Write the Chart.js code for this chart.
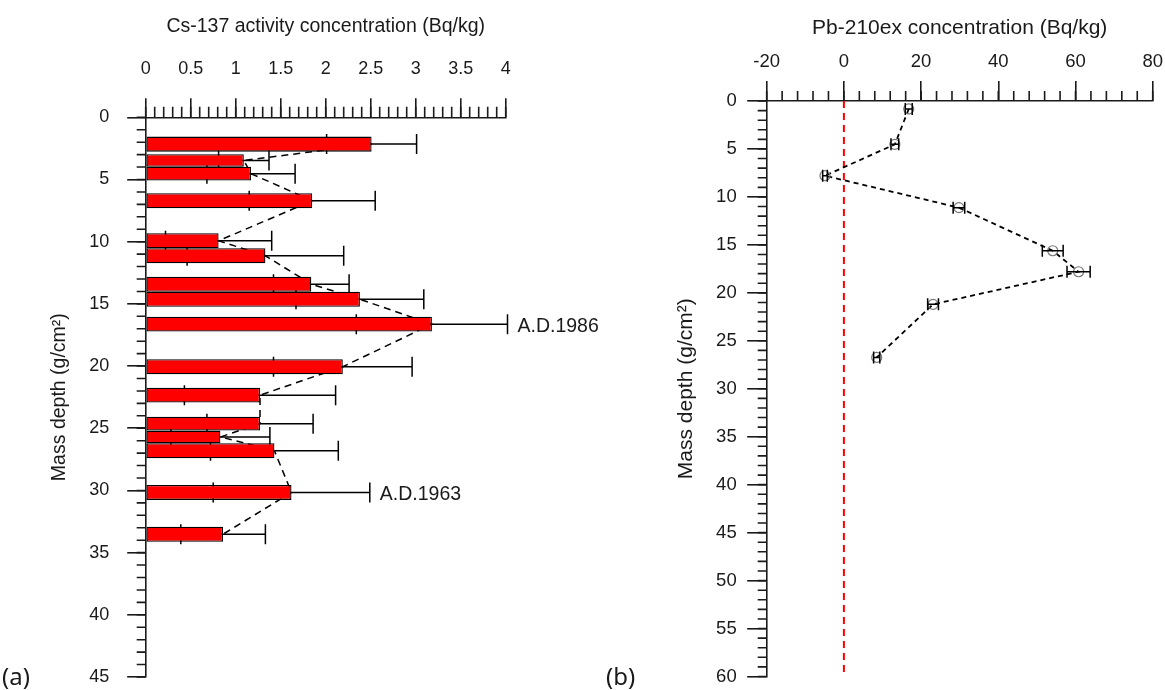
<!DOCTYPE html>
<html>
<head>
<meta charset="utf-8">
<title>Cs-137 and Pb-210ex mass depth profiles</title>
<script src="https://cdn.jsdelivr.net/npm/chart.js@4.4.1/dist/chart.umd.min.js"></script>
<style>
  html, body { margin: 0; padding: 0; background: #fff; }
  #wrap { position: relative; width: 1165px; height: 690px; overflow: hidden; }
  #csChart { position: absolute; left: 0; top: 0; }
  #pbChart { position: absolute; left: 600px; top: 0; }
  .panel { position: absolute; font-family: 'Noto Sans', sans-serif; font-size: 24px; line-height: 1; color: #1a1a1a; }
</style>
</head>
<body>
<div id="wrap">
  <canvas id="csChart" width="620" height="690"></canvas>
  <canvas id="pbChart" width="565" height="690"></canvas>
  <div class="panel" style="left:2px; top:664px;">(a)</div>
  <div class="panel" style="left:606px; top:664px;">(b)</div>
</div>
<script>
// --- Data: Cs-137, each bar covers one mass depth interval (g/cm2) ---
const csDepthTop    = [1.55, 2.97, 3.97, 6.11, 9.32, 10.53, 12.81, 14.02, 16.03, 19.45, 21.74, 24.07, 25.19, 26.21, 29.56, 32.91];
const csDepthBottom = [2.76, 3.97, 5.09, 7.32, 10.53, 11.74, 14.02, 15.23, 17.23, 20.66, 22.94, 25.19, 26.21, 27.41, 30.76, 34.12];
const csActivity    = [2.51, 1.09, 1.17, 1.85, 0.81, 1.33, 1.84, 2.38, 3.18, 2.19, 1.27, 1.27, 0.83, 1.43, 1.62, 0.86];
const csError       = [0.50, 0.28, 0.49, 0.70, 0.59, 0.87, 0.42, 0.71, 0.84, 0.77, 0.84, 0.59, 0.55, 0.71, 0.87, 0.47];
const noteIndex = [8, 14];
const noteText  = ['A.D.1986', 'A.D.1963'];

// --- Data: Pb-210ex ---
const pbDepth = [0.83, 4.52, 7.79, 11.12, 15.61, 17.80, 21.20, 26.73];
const pbValue = [16.8, 13.2, -4.9, 29.8, 54.1, 60.8, 23.1, 8.5];
const pbError = [0.9, 1.0, 0.6, 1.5, 2.7, 3.0, 1.4, 0.8];
const zeroLineDepth = [0, 60];

const INK = '#1a1a1a';
Chart.defaults.font.family = "'Liberation Sans', Arial, sans-serif";
Chart.defaults.color = INK;

const csMid = csDepthTop.map((t, i) => (t + csDepthBottom[i]) / 2);

// small ticks between the labelled ones
function minorTicksPlugin(xStep, xLen, yStep, yLen) {
    return {
        id: 'minorTicks',
        afterDraw(chart) {
            const { ctx, chartArea, scales: { x, y } } = chart;
            ctx.save();
            ctx.strokeStyle = INK;
            ctx.lineWidth = 1.6;
            ctx.beginPath();
            const nx = Math.round((x.max - x.min) / xStep);
            for (let k = 0; k <= nx; k++) {
                const p = x.getPixelForValue(x.min + k * xStep);
                ctx.moveTo(p, chartArea.top);
                ctx.lineTo(p, chartArea.top - xLen);
            }
            const ny = Math.round((y.max - y.min) / yStep);
            for (let k = 0; k <= ny; k++) {
                const p = y.getPixelForValue(y.min + k * yStep);
                ctx.moveTo(chartArea.left, p);
                ctx.lineTo(chartArea.left - yLen, p);
            }
            ctx.stroke();
            ctx.restore();
        }
    };
}

function drawErrorBars(chart, values, depths, errors, cap) {
    const { ctx, scales: { x, y } } = chart;
    ctx.save();
    ctx.strokeStyle = '#000';
    ctx.lineWidth = 1.5;
    values.forEach((v, i) => {
        const py = y.getPixelForValue(depths[i]);
        const x0 = x.getPixelForValue(v - errors[i]);
        const x1 = x.getPixelForValue(v + errors[i]);
        ctx.beginPath();
        ctx.moveTo(x0, py); ctx.lineTo(x1, py);
        ctx.moveTo(x0, py - cap); ctx.lineTo(x0, py + cap);
        ctx.moveTo(x1, py - cap); ctx.lineTo(x1, py + cap);
        ctx.stroke();
    });
    ctx.restore();
}

// bars get their thickness from the depth interval they cover
const depthSpanBars = {
    id: 'depthSpanBars',
    afterDatasetUpdate(chart, args) {
        if (args.index !== 0) return;
        const y = chart.scales.y;
        args.meta.data.forEach((bar, i) => {
            const top = y.getPixelForValue(csDepthTop[i]);
            const bottom = y.getPixelForValue(csDepthBottom[i]);
            bar.y = (top + bottom) / 2;
            bar.height = bottom - top;
        });
    }
};

const csExtras = {
    id: 'csExtras',
    beforeDatasetsDraw(chart) {
        drawErrorBars(chart, csActivity, csMid, csError, 10);
    },
    afterDatasetsDraw(chart) {
        const { ctx, scales: { x, y } } = chart;
        ctx.save();
        ctx.fillStyle = INK;
        ctx.font = "19.5px 'Liberation Sans', Arial, sans-serif";
        ctx.textBaseline = 'middle';
        noteIndex.forEach((idx, k) => {
            const px = x.getPixelForValue(csActivity[idx] + csError[idx]) + 10;
            ctx.fillText(noteText[k], px, y.getPixelForValue(csMid[idx]) + 2);
        });
        ctx.restore();
    }
};

const pbExtras = {
    id: 'pbExtras',
    afterDatasetsDraw(chart) {
        drawErrorBars(chart, pbValue, pbDepth, pbError, 6);
    }
};

// fixed box sizes so both plot areas land where the figure has them
function fixBox(size) {
    return s => {
        if (s.isHorizontal()) s.height = size; else s.width = size;
        s.paddingTop = 0; s.paddingBottom = 0;
        s.paddingLeft = 0; s.paddingRight = 0;
    };
}

function axisX(min, max, step, tickLen, pad, fontSize, title, titleSize, titleTop, height) {
    return {
        type: 'linear', position: 'top', min, max, offset: false,
        ticks: { stepSize: step, padding: pad, font: { size: fontSize }, color: INK, maxRotation: 0, autoSkip: false, callback: v => String(v) },
        grid: { drawOnChartArea: false, tickLength: tickLen, color: INK, lineWidth: 1.6, offset: false },
        border: { color: INK, width: 1.6 },
        title: { display: true, text: title, color: INK, font: { size: titleSize }, padding: { top: titleTop, bottom: 0 } },
        afterFit: fixBox(height)
    };
}

function axisY(max, tickLen, pad, fontSize, titleSize, titleTop, width) {
    return {
        type: 'linear', reverse: true, min: 0, max, offset: false,
        ticks: { stepSize: 5, padding: pad, font: { size: fontSize }, color: INK, autoSkip: false, callback: v => String(v) },
        grid: { drawOnChartArea: false, tickLength: tickLen, color: INK, lineWidth: 1.6, offset: false },
        border: { color: INK, width: 1.6 },
        title: { display: true, text: 'Mass depth (g/cm²)', color: INK, font: { size: titleSize }, padding: { top: titleTop, bottom: 0 } },
        afterFit: fixBox(width)
    };
}

// --- (a) Cs-137 ---
const csPoints = csActivity.map((v, i) => ({ x: v, y: csMid[i] }));
new Chart(document.getElementById('csChart'), {
    type: 'bar',
    data: {
        datasets: [
            {
                type: 'bar',
                data: csPoints,
                backgroundColor: '#ff0000',
                borderColor: '#000',
                borderWidth: 1.3,
                borderSkipped: false
            },
            {
                type: 'line',
                data: csPoints,
                borderColor: '#000',
                borderWidth: 1.5,
                borderDash: [7, 5],
                pointRadius: 0,
                fill: false,
                tension: 0
            }
        ]
    },
    options: {
        indexAxis: 'y',
        responsive: false,
        animation: false,
        events: [],
        layout: { autoPadding: false, padding: { left: 0, top: 0, right: 114.3, bottom: 13 } },
        plugins: { legend: { display: false }, tooltip: { enabled: false } },
        scales: {
            x: axisX(0, 4, 0.5, 19, 18, 18, 'Cs-137 activity concentration (Bq/kg)', 19.5, 15, 117.3),
            y: axisY(45, 18.5, 18, 18, 19.5, 48, 145.7)
        }
    },
    plugins: [depthSpanBars, csExtras, minorTicksPlugin(0.1, 10.6, 1, 9)]
});

// --- (b) Pb-210ex ---
new Chart(document.getElementById('pbChart'), {
    type: 'scatter',
    data: {
        datasets: [
            {
                data: pbValue.map((v, i) => ({ x: v, y: pbDepth[i] })),
                showLine: true,
                borderColor: '#000',
                borderWidth: 1.8,
                borderDash: [5, 4],
                pointRadius: 5,
                pointBackgroundColor: 'rgba(0,0,0,0)',
                pointBorderColor: '#777',
                pointBorderWidth: 1.2
            },
            {
                data: zeroLineDepth.map(d => ({ x: 0, y: d })),
                showLine: true,
                borderColor: '#ff0000',
                borderWidth: 2,
                borderDash: [7, 5],
                pointRadius: 0
            }
        ]
    },
    options: {
        responsive: false,
        animation: false,
        events: [],
        layout: { autoPadding: false, padding: { left: 0, top: 0, right: 12.3, bottom: 13.5 } },
        plugins: { legend: { display: false }, tooltip: { enabled: false } },
        scales: {
            x: axisX(-20, 80, 20, 20, 8, 18.5, 'Pb-210ex concentration (Bq/kg)', 21, 15.7, 101),
            y: axisY(60, 19.5, 10.5, 18.5, 21, 73.4, 166.7)
        }
    },
    plugins: [pbExtras, minorTicksPlugin(4, 10, 1, 9)]
});
</script>
</body>
</html>
